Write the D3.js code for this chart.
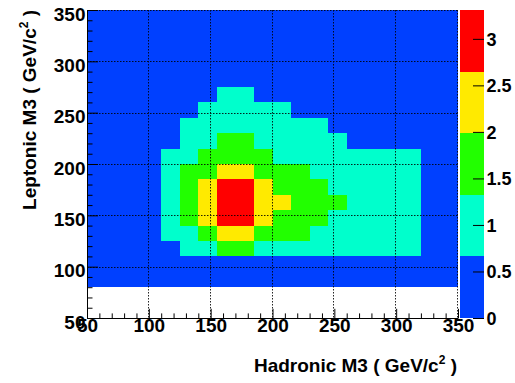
<!DOCTYPE html>
<html>
<head>
<meta charset="utf-8">
<script src="https://cdn.jsdelivr.net/npm/d3@7"></script>
<style>
  body { margin: 0; background: #fff; }
  svg text { font-family: "Liberation Sans", Arial, Helvetica, sans-serif; font-weight: bold; fill: #000; }
</style>
</head>
<body>
<svg id="chart" width="515" height="383"></svg>
<script>
// Bin low edges (GeV/c^2), 15 GeV wide bins
const hadBinLow = [50, 65, 80, 95, 110, 125, 140, 155, 170, 185, 200, 215, 230, 245, 260, 275, 290, 305, 320, 335];
const lepBinLow = [50, 65, 80, 95, 110, 125, 140, 155, 170, 185, 200, 215, 230, 245, 260, 275, 290, 305, 320, 335];
const binWidth = 15;

// Bin contents, one row per leptonic M3 bin (bottom to top), one value per hadronic M3 bin
const counts = [
  [0,0,0,0,0,0,0,0,0,0,0,0,0,0,0,0,0,0,0,0],
  [0,0,0,0,0,0,0,0,0,0,0,0,0,0,0,0,0,0,0,0],
  [0.12,0.15,0.18,0.20,0.22,0.25,0.28,0.30,0.30,0.28,0.26,0.24,0.22,0.20,0.18,0.17,0.15,0.14,0.12,0.10],
  [0.18,0.22,0.28,0.34,0.42,0.50,0.56,0.60,0.60,0.57,0.55,0.52,0.50,0.47,0.44,0.40,0.36,0.32,0.26,0.20],
  [0.20,0.26,0.34,0.45,0.58,0.78,1.05,1.45,1.40,1.10,0.98,0.92,0.88,0.84,0.80,0.76,0.72,0.68,0.50,0.30],
  [0.22,0.30,0.40,0.55,0.80,1.20,1.70,2.30,2.20,1.75,1.55,1.40,1.25,1.10,0.98,0.88,0.80,0.72,0.52,0.32],
  [0.24,0.32,0.44,0.60,0.90,1.60,2.40,3.00,2.90,2.10,1.80,1.60,1.40,1.25,1.10,0.95,0.85,0.75,0.55,0.34],
  [0.25,0.33,0.45,0.62,0.95,1.70,2.50,3.31,3.10,2.30,2.05,1.80,1.60,1.40,1.20,1.00,0.88,0.76,0.56,0.35],
  [0.24,0.32,0.44,0.60,0.92,1.65,2.45,3.15,3.00,2.20,1.85,1.65,1.40,1.25,1.10,0.95,0.85,0.75,0.55,0.34],
  [0.22,0.30,0.40,0.56,0.85,1.45,1.90,2.40,2.30,1.80,1.60,1.40,1.25,1.12,1.00,0.90,0.80,0.70,0.50,0.32],
  [0.20,0.27,0.36,0.50,0.75,1.20,1.60,1.90,1.80,1.45,1.28,1.15,1.05,0.95,0.88,0.80,0.74,0.68,0.46,0.30],
  [0.18,0.24,0.32,0.44,0.60,1.00,1.30,1.50,1.45,1.25,1.10,0.98,0.88,0.75,0.60,0.50,0.44,0.38,0.30,0.22],
  [0.16,0.20,0.27,0.36,0.50,0.80,1.05,1.25,1.20,1.05,0.95,0.85,0.72,0.60,0.50,0.42,0.36,0.30,0.24,0.18],
  [0.13,0.17,0.22,0.30,0.42,0.60,0.80,0.98,0.95,0.85,0.72,0.60,0.50,0.42,0.36,0.30,0.26,0.22,0.18,0.14],
  [0.10,0.13,0.17,0.22,0.30,0.42,0.58,0.75,0.72,0.60,0.50,0.42,0.36,0.30,0.26,0.22,0.19,0.16,0.13,0.10],
  [0.08,0.10,0.13,0.17,0.22,0.30,0.40,0.50,0.48,0.40,0.34,0.28,0.24,0.20,0.18,0.15,0.13,0.11,0.09,0.08],
  [0.06,0.08,0.10,0.12,0.16,0.20,0.26,0.32,0.30,0.26,0.22,0.19,0.16,0.14,0.12,0.10,0.09,0.08,0.07,0.06],
  [0.05,0.06,0.07,0.09,0.11,0.14,0.17,0.20,0.20,0.17,0.15,0.13,0.11,0.10,0.09,0.08,0.07,0.06,0.05,0.05],
  [0.04,0.05,0.06,0.07,0.08,0.10,0.12,0.14,0.14,0.12,0.10,0.09,0.08,0.07,0.06,0.06,0.05,0.05,0.04,0.04],
  [0.03,0.04,0.05,0.05,0.06,0.07,0.08,0.09,0.09,0.08,0.07,0.06,0.06,0.05,0.05,0.04,0.04,0.04,0.03,0.03]
];

// Axis ticks and palette
const axisMajor = [50, 100, 150, 200, 250, 300, 350];
const axisMinor = [60, 70, 80, 90, 110, 120, 130, 140, 160, 170, 180, 190, 210, 220, 230, 240, 260, 270, 280, 290, 310, 320, 330, 340];
const zTicks = [0, 0.5, 1, 1.5, 2, 2.5, 3];
const palette = ["#0040ff", "#00ffcc", "#22ff00", "#ffea00", "#ff0000"];
const xTitle = "Hadronic M3 ( GeV/c";
const yTitle = "Leptonic M3 ( GeV/c";

const svg = d3.select("#chart");
const frame = { left: 87, right: 458, top: 10, bottom: 318 };

const x = d3.scaleLinear().domain([50, 350]).range([frame.left, frame.right]);
const y = d3.scaleLinear().domain([50, 350]).range([frame.bottom, frame.top]);
const zMax = d3.max(counts.flat());
const color = d3.scaleQuantize().domain([0, zMax]).range(palette);

// Cells
const cells = [];
counts.forEach((row, j) => row.forEach((v, i) => {
  if (v > 0) cells.push({ x0: hadBinLow[i], y0: lepBinLow[j], v });
}));
svg.append("g").attr("shape-rendering", "crispEdges")
  .selectAll("rect").data(cells).join("rect")
  .attr("x", d => x(d.x0))
  .attr("y", d => y(d.y0 + binWidth))
  .attr("width", d => x(d.x0 + binWidth) - x(d.x0))
  .attr("height", d => y(d.y0) - y(d.y0 + binWidth))
  .attr("fill", d => color(d.v));

// Dotted grid
const grid = svg.append("g").attr("stroke", "#000").attr("stroke-width", 1)
  .attr("stroke-dasharray", "1.5,1.5").attr("opacity", 0.85);
grid.selectAll("line.v").data(axisMajor.slice(1)).join("line").attr("class", "v")
  .attr("x1", d => Math.round(x(d)) - 0.5).attr("x2", d => Math.round(x(d)) - 0.5)
  .attr("y1", frame.top).attr("y2", frame.bottom);
grid.selectAll("line.h").data(axisMajor.slice(1)).join("line").attr("class", "h")
  .attr("y1", d => Math.round(y(d)) + 0.5).attr("y2", d => Math.round(y(d)) + 0.5)
  .attr("x1", frame.left).attr("x2", frame.right);

// X axis
const xg = svg.append("g").attr("transform", `translate(0,${frame.bottom})`);
xg.append("g").call(d3.axisBottom(x).tickValues(axisMinor).tickSize(-4.6).tickSizeOuter(0).tickFormat(""))
  .call(g => g.select(".domain").remove());
xg.append("g").call(d3.axisBottom(x).tickValues(axisMajor).tickSize(-9.2).tickSizeOuter(0))
  .call(g => g.selectAll("text").attr("y", 14).attr("dy", 0).style("font-size", "19px").attr("font-family", null));
xg.selectAll("line,path").attr("stroke", "#000");

// Y axis
const yg = svg.append("g").attr("transform", `translate(${frame.left},0)`);
yg.append("g").call(d3.axisLeft(y).tickValues(axisMinor).tickSize(-5.5).tickSizeOuter(0).tickFormat(""))
  .call(g => g.select(".domain").remove());
yg.append("g").call(d3.axisLeft(y).tickValues(axisMajor).tickSize(-11).tickSizeOuter(0).tickPadding(1.5))
  .call(g => g.selectAll("text").attr("y", 10).attr("dy", 0).style("font-size", "19px").attr("font-family", null));
yg.selectAll("line,path").attr("stroke", "#000");

// Palette bar
const bar = { left: 460, right: 484 };
const z = d3.scaleLinear().domain([0, zMax]).range([frame.bottom, frame.top]);
const step = zMax / palette.length;
svg.append("g").attr("shape-rendering", "crispEdges")
  .selectAll("rect").data(palette).join("rect")
  .attr("x", bar.left).attr("width", bar.right - bar.left)
  .attr("y", (c, k) => z((k + 1) * step))
  .attr("height", (c, k) => z(k * step) - z((k + 1) * step))
  .attr("fill", c => c);
const zg = svg.append("g").attr("transform", `translate(${bar.right},0)`)
  .call(d3.axisRight(z).tickValues(zTicks).tickSize(-11).tickSizeOuter(0).tickPadding(2.5).tickFormat(d3.format("~g")))
  .call(g => g.select(".domain").remove());
zg.selectAll("line").attr("stroke", "#000");
zg.selectAll("text").attr("dy", "0.36em").style("font-size", "18px").attr("font-family", null);

// Axis titles
function title(sel, label) {
  sel.style("font-size", "19px").attr("text-anchor", "end");
  sel.append("tspan").text(label);
  sel.append("tspan").attr("dy", -8).style("font-size", "12px").text("2");
  sel.append("tspan").attr("dy", 8).text(" )");
}
svg.append("text").attr("x", 457).attr("y", 372).call(title, xTitle);
svg.append("text").attr("transform", `translate(36,10) rotate(-90)`).call(title, yTitle);
</script>
</body>
</html>
